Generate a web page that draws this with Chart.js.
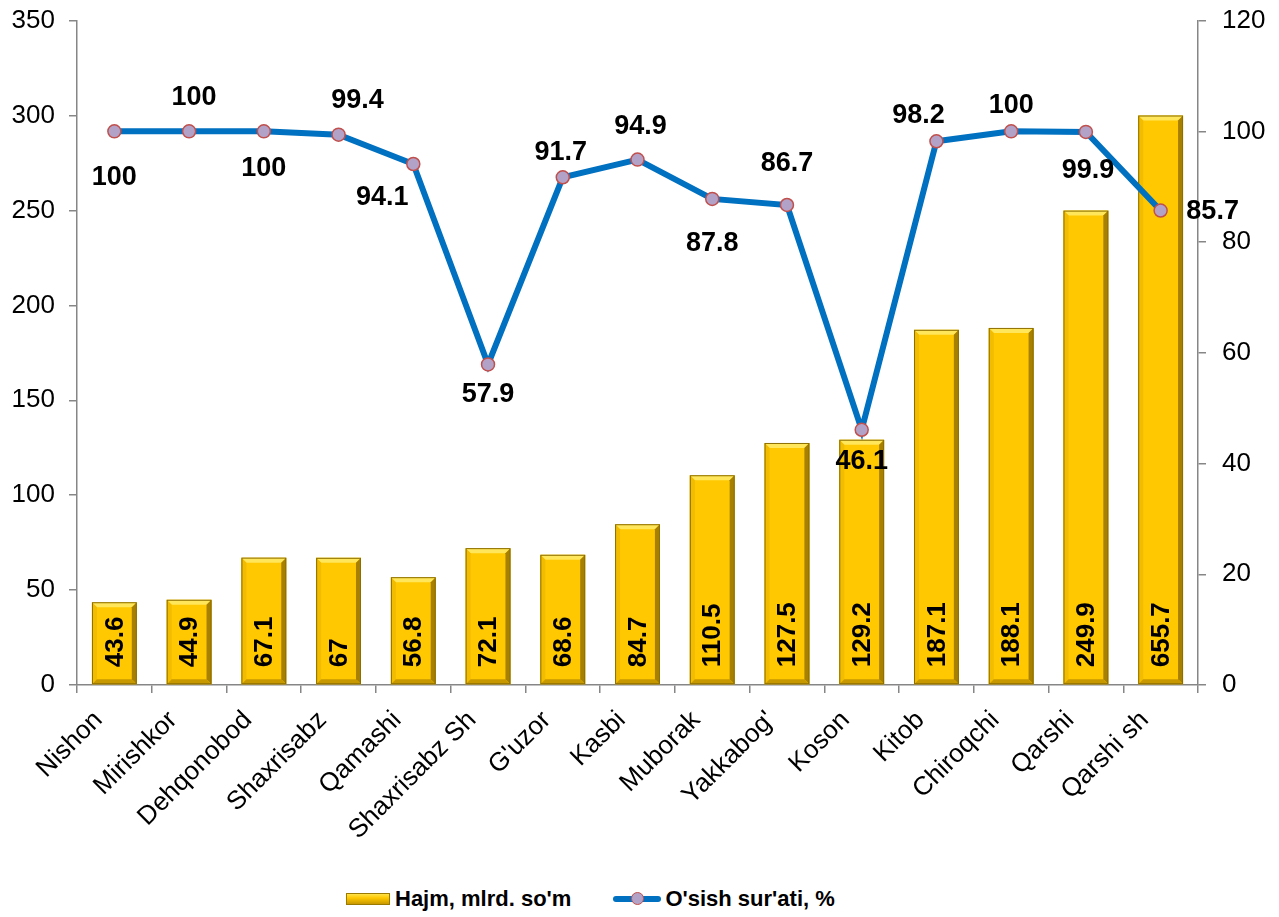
<!DOCTYPE html>
<html>
<head>
<meta charset="utf-8">
<script src="https://cdn.jsdelivr.net/npm/chart.js@4.4.1/dist/chart.umd.min.js"></script>
<style>
    html, body { margin: 0; padding: 0; background: #fff; overflow: hidden; }
    #wrap { position: relative; width: 1279px; height: 917px; overflow: hidden; }
    #chart { position: absolute; left: 0; top: -11px; }
    #legend {
        position: absolute; left: 346px; top: 886px;
        display: flex; align-items: center;
        font-family: "Liberation Sans", Arial, sans-serif;
        font-weight: bold; font-size: 22px; color: #000;
    }
    .item { display: flex; align-items: center; }
    .swatch-bar {
        width: 44px; height: 12px; margin-right: 5px;
        background: linear-gradient(#FFE24A, #FFC800 40%, #C89800);
        border: 1px solid #9A7A00; box-sizing: border-box;
    }
    .swatch-line { position: relative; width: 48px; height: 14px; margin-right: 4px; }
    .swatch-line::before {
        content: ""; position: absolute; left: 0; right: 0; top: 4px; height: 6px;
        background: #0070C0; border-radius: 3px;
    }
    .swatch-line::after {
        content: ""; position: absolute; left: 18px; top: 0; width: 11px; height: 11px;
        background: #B3A2C7; border: 1.5px solid #C0504D; border-radius: 50%;
    }
</style>
</head>
<body>
<div id="wrap">
    <canvas id="chart" width="1279" height="881"></canvas>
    <div id="legend">
        <div class="item"><span class="swatch-bar"></span>Hajm, mlrd. so'm</div>
        <div class="item" style="margin-left:42px"><span class="swatch-line"></span>O'sish sur'ati, %</div>
    </div>
</div>
<script>
const districts = [
    "Nishon", "Mirishkor", "Dehqonobod", "Shaxrisabz", "Qamashi", "Shaxrisabz Sh",
    "G'uzor", "Kasbi", "Muborak", "Yakkabog'", "Koson", "Kitob", "Chiroqchi",
    "Qarshi", "Qarshi sh",
];
const volumes = [43.6, 44.9, 67.1, 67, 56.8, 72.1, 68.6, 84.7, 110.5, 127.5, 129.2, 187.1, 188.1, 249.9, 655.7];
const growth = [100, 100, 100, 99.4, 94.1, 57.9, 91.7, 94.9, 87.8, 86.7, 46.1, 98.2, 100, 99.9, 85.7];

// the picture cuts the last (off-scale) bar at 300
const BAR_CAP = 300;
const leftTicks = { min: 0, max: 350, step: 50 };
const rightTicks = { min: 0, max: 120, step: 20 };

// label placement around each growth point (dx, dy in px)
const growthLabelOffsets = [
    [0, 46], [5, -34], [0, 37], [19, -34], [-31, 34], [0, 30], [-2, -25], [3, -33],
    [0, 45], [0, -41], [0, 32], [-18, -26], [0, -26], [2, 39], [52, 1],
];

const FONT = "'Liberation Sans', Arial, sans-serif";
const AXIS_GREY = "#868686";
const CANVAS_H = 881;
const PLOT_BOTTOM = 696; // in canvas coords (canvas is shifted up 11px)

const bevelPlugin = {
    id: "bevel",
    afterDatasetDraw(chart, args) {
        if (args.index !== 0) return;
        const ctx = chart.ctx;
        const b = 5;
        ctx.save();
        args.meta.data.forEach((bar, i) => {
            const l = bar.x - bar.width / 2, r = bar.x + bar.width / 2;
            const t = bar.y, btm = bar.base;
            const poly = (pts, color) => {
                ctx.beginPath();
                ctx.moveTo(pts[0][0], pts[0][1]);
                pts.slice(1).forEach((p) => ctx.lineTo(p[0], p[1]));
                ctx.closePath();
                ctx.fillStyle = color;
                ctx.fill();
            };
            poly([[l, t], [r, t], [r - b, t + b], [l + b, t + b]], "#FFE65A");
            poly([[l, t], [l + b, t + b], [l + b, btm - b], [l, btm]], "#F2BC00");
            poly([[r, t], [r, btm], [r - b, btm - b], [r - b, t + b]], "#A88000");
            poly([[l, btm], [r, btm], [r - b, btm - b], [l + b, btm - b]], "#C89800");
            ctx.strokeStyle = "#8C6E00";
            ctx.lineWidth = 1;
            ctx.strokeRect(l + 0.5, t + 0.5, r - l - 1, btm - t - 1);

            // value written along the bar from its base
            ctx.save();
            ctx.translate(bar.x, btm - 17);
            ctx.rotate(-Math.PI / 2);
            ctx.font = `bold 26px ${FONT}`;
            ctx.fillStyle = "#000";
            ctx.textAlign = "left";
            ctx.textBaseline = "middle";
            ctx.fillText(String(volumes[i]), 0, 1);
            ctx.restore();
        });
        ctx.restore();
    },
    afterDatasetsDraw(chart) {
        const ctx = chart.ctx;
        const meta = chart.getDatasetMeta(1);
        ctx.save();
        ctx.font = `bold 27px ${FONT}`;
        ctx.fillStyle = "#000";
        ctx.textAlign = "center";
        ctx.textBaseline = "middle";
        meta.data.forEach((pt, i) => {
            const [dx, dy] = growthLabelOffsets[i];
            ctx.fillText(String(growth[i]), pt.x + dx, pt.y + dy);
        });
        ctx.restore();
    },
};

new Chart(document.getElementById("chart"), {
    type: "bar",
    data: {
        labels: districts,
        datasets: [
            {
                type: "bar",
                label: "Hajm, mlrd. so'm",
                data: volumes.map((v) => Math.min(v, BAR_CAP)),
                backgroundColor: "#FFC800",
                borderWidth: 0,
                barPercentage: 0.6,
                categoryPercentage: 1,
                yAxisID: "y",
                order: 2,
            },
            {
                type: "line",
                label: "O'sish sur'ati, %",
                data: growth,
                borderColor: "#0070C0",
                borderWidth: 6,
                pointRadius: 6.5,
                pointBackgroundColor: "#B3A2C7",
                pointBorderColor: "#C0504D",
                pointBorderWidth: 1.5,
                tension: 0,
                yAxisID: "y1",
                order: 1,
            },
        ],
    },
    options: {
        responsive: false,
        animation: false,
        layout: { padding: { top: 7, left: 0, right: 0, bottom: 0 } },
        plugins: {
            legend: { display: false },
            tooltip: { enabled: false },
        },
        scales: {
            x: {
                offset: true,
                grid: {
                    display: true,
                    offset: true,
                    drawOnChartArea: false,
                    drawTicks: true,
                    tickLength: 8,
                    color: AXIS_GREY,
                    lineWidth: 1.5,
                },
                border: { color: AXIS_GREY, width: 1.5 },
                ticks: {
                    color: "#000",
                    font: { family: FONT, size: 26 },
                    maxRotation: 45,
                    minRotation: 45,
                    autoSkip: false,
                    padding: 12,
                    labelOffset: -16,
                },
                afterFit: (scale) => { scale.height = CANVAS_H - PLOT_BOTTOM; },
            },
            y: {
                position: "left",
                min: leftTicks.min,
                max: leftTicks.max,
                grid: {
                    drawOnChartArea: false,
                    drawTicks: true,
                    tickLength: 8,
                    color: AXIS_GREY,
                    lineWidth: 1.5,
                },
                border: { color: AXIS_GREY, width: 1.5 },
                ticks: {
                    stepSize: leftTicks.step,
                    color: "#000",
                    font: { family: FONT, size: 26 },
                    padding: 14,
                },
                afterFit: (scale) => { scale.width = 77; },
            },
            y1: {
                position: "right",
                min: rightTicks.min,
                max: rightTicks.max,
                grid: {
                    drawOnChartArea: false,
                    drawTicks: true,
                    tickLength: 8,
                    color: AXIS_GREY,
                    lineWidth: 1.5,
                },
                border: { color: AXIS_GREY, width: 1.5 },
                ticks: {
                    stepSize: rightTicks.step,
                    color: "#000",
                    font: { family: FONT, size: 26 },
                    padding: 16,
                },
                afterFit: (scale) => { scale.width = 1279 - 1198; },
            },
        },
    },
    plugins: [bevelPlugin],
});
</script>
</body>
</html>
